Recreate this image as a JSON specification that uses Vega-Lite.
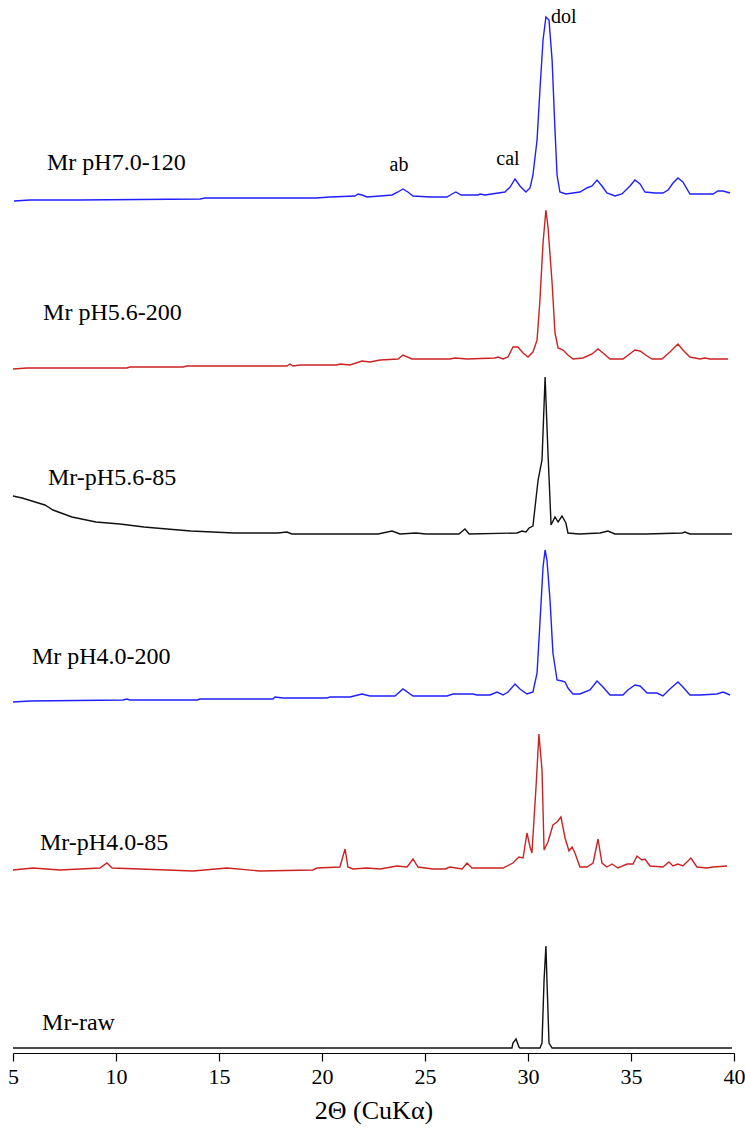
{
  "$schema": "https://vega.github.io/schema/vega-lite/v6.json",
  "width": 721,
  "height": 1053,
  "autosize": {"type": "none"},
  "padding": {"top": 0, "left": 13, "right": 11, "bottom": 81},
  "background": "white",
  "config": {"view": {"stroke": null}, "font": "'Liberation Serif', 'DejaVu Serif', serif"},
  "datasets": {
    "patterns": [
      {"sample":"Mr pH7.0-120","theta":5.05,"counts":852},{"sample":"Mr pH7.0-120","theta":5.83,"counts":853},{"sample":"Mr pH7.0-120","theta":8.16,"counts":853},{"sample":"Mr pH7.0-120","theta":14.08,"counts":854},{"sample":"Mr pH7.0-120","theta":14.32,"counts":855},{"sample":"Mr pH7.0-120","theta":19.71,"counts":855},{"sample":"Mr pH7.0-120","theta":20.39,"counts":856},{"sample":"Mr pH7.0-120","theta":21.6,"counts":857},{"sample":"Mr pH7.0-120","theta":21.75,"counts":859},{"sample":"Mr pH7.0-120","theta":21.94,"counts":858},{"sample":"Mr pH7.0-120","theta":22.18,"counts":856},{"sample":"Mr pH7.0-120","theta":22.82,"counts":857},{"sample":"Mr pH7.0-120","theta":23.4,"counts":858},{"sample":"Mr pH7.0-120","theta":23.69,"counts":861},{"sample":"Mr pH7.0-120","theta":23.93,"counts":864},{"sample":"Mr pH7.0-120","theta":24.17,"counts":861},{"sample":"Mr pH7.0-120","theta":24.42,"counts":857},{"sample":"Mr pH7.0-120","theta":25.24,"counts":856},{"sample":"Mr pH7.0-120","theta":26.07,"counts":856},{"sample":"Mr pH7.0-120","theta":26.31,"counts":859},{"sample":"Mr pH7.0-120","theta":26.5,"counts":861},{"sample":"Mr pH7.0-120","theta":26.75,"counts":858},{"sample":"Mr pH7.0-120","theta":27.57,"counts":858},{"sample":"Mr pH7.0-120","theta":27.67,"counts":859},{"sample":"Mr pH7.0-120","theta":27.91,"counts":858},{"sample":"Mr pH7.0-120","theta":28.88,"counts":861},{"sample":"Mr pH7.0-120","theta":29.13,"counts":866},{"sample":"Mr pH7.0-120","theta":29.37,"counts":874},{"sample":"Mr pH7.0-120","theta":29.61,"counts":867},{"sample":"Mr pH7.0-120","theta":29.9,"counts":861},{"sample":"Mr pH7.0-120","theta":30.1,"counts":865},{"sample":"Mr pH7.0-120","theta":30.24,"counts":878},{"sample":"Mr pH7.0-120","theta":30.44,"counts":913},{"sample":"Mr pH7.0-120","theta":30.58,"counts":963},{"sample":"Mr pH7.0-120","theta":30.73,"counts":1013},{"sample":"Mr pH7.0-120","theta":30.87,"counts":1036},{"sample":"Mr pH7.0-120","theta":31.02,"counts":1033},{"sample":"Mr pH7.0-120","theta":31.17,"counts":993},{"sample":"Mr pH7.0-120","theta":31.31,"counts":923},{"sample":"Mr pH7.0-120","theta":31.41,"counts":878},{"sample":"Mr pH7.0-120","theta":31.55,"counts":861},{"sample":"Mr pH7.0-120","theta":31.84,"counts":859},{"sample":"Mr pH7.0-120","theta":32.52,"counts":861},{"sample":"Mr pH7.0-120","theta":32.86,"counts":865},{"sample":"Mr pH7.0-120","theta":33.11,"counts":867},{"sample":"Mr pH7.0-120","theta":33.35,"counts":873},{"sample":"Mr pH7.0-120","theta":33.59,"counts":867},{"sample":"Mr pH7.0-120","theta":33.83,"counts":860},{"sample":"Mr pH7.0-120","theta":34.22,"counts":857},{"sample":"Mr pH7.0-120","theta":34.56,"counts":859},{"sample":"Mr pH7.0-120","theta":34.95,"counts":867},{"sample":"Mr pH7.0-120","theta":35.19,"counts":873},{"sample":"Mr pH7.0-120","theta":35.44,"counts":869},{"sample":"Mr pH7.0-120","theta":35.68,"counts":861},{"sample":"Mr pH7.0-120","theta":36.17,"counts":860},{"sample":"Mr pH7.0-120","theta":36.55,"counts":860},{"sample":"Mr pH7.0-120","theta":36.8,"counts":863},{"sample":"Mr pH7.0-120","theta":37.04,"counts":870},{"sample":"Mr pH7.0-120","theta":37.28,"counts":875},{"sample":"Mr pH7.0-120","theta":37.52,"counts":871},{"sample":"Mr pH7.0-120","theta":37.86,"counts":859},{"sample":"Mr pH7.0-120","theta":38.35,"counts":859},{"sample":"Mr pH7.0-120","theta":38.98,"counts":859},{"sample":"Mr pH7.0-120","theta":39.22,"counts":862},{"sample":"Mr pH7.0-120","theta":39.47,"counts":862},{"sample":"Mr pH7.0-120","theta":39.81,"counts":860},

      {"sample":"Mr pH5.6-200","theta":5.0,"counts":684},{"sample":"Mr pH5.6-200","theta":5.68,"counts":685},{"sample":"Mr pH5.6-200","theta":10.53,"counts":685},{"sample":"Mr pH5.6-200","theta":10.68,"counts":686},{"sample":"Mr pH5.6-200","theta":13.25,"counts":686},{"sample":"Mr pH5.6-200","theta":13.45,"counts":687},{"sample":"Mr pH5.6-200","theta":18.3,"counts":687},{"sample":"Mr pH5.6-200","theta":18.45,"counts":689},{"sample":"Mr pH5.6-200","theta":18.59,"counts":687},{"sample":"Mr pH5.6-200","theta":18.93,"counts":688},{"sample":"Mr pH5.6-200","theta":20.73,"counts":688},{"sample":"Mr pH5.6-200","theta":20.87,"counts":689},{"sample":"Mr pH5.6-200","theta":21.36,"counts":688},{"sample":"Mr pH5.6-200","theta":21.94,"counts":692},{"sample":"Mr pH5.6-200","theta":22.33,"counts":691},{"sample":"Mr pH5.6-200","theta":22.82,"counts":693},{"sample":"Mr pH5.6-200","theta":23.69,"counts":694},{"sample":"Mr pH5.6-200","theta":23.93,"counts":698},{"sample":"Mr pH5.6-200","theta":24.37,"counts":694},{"sample":"Mr pH5.6-200","theta":26.21,"counts":694},{"sample":"Mr pH5.6-200","theta":26.46,"counts":695},{"sample":"Mr pH5.6-200","theta":27.04,"counts":694},{"sample":"Mr pH5.6-200","theta":28.4,"counts":695},{"sample":"Mr pH5.6-200","theta":28.54,"counts":696},{"sample":"Mr pH5.6-200","theta":28.79,"counts":694},{"sample":"Mr pH5.6-200","theta":29.03,"counts":696},{"sample":"Mr pH5.6-200","theta":29.27,"counts":706},{"sample":"Mr pH5.6-200","theta":29.51,"counts":706},{"sample":"Mr pH5.6-200","theta":29.76,"counts":700},{"sample":"Mr pH5.6-200","theta":30.0,"counts":696},{"sample":"Mr pH5.6-200","theta":30.24,"counts":701},{"sample":"Mr pH5.6-200","theta":30.44,"counts":713},{"sample":"Mr pH5.6-200","theta":30.58,"counts":753},{"sample":"Mr pH5.6-200","theta":30.73,"counts":810},{"sample":"Mr pH5.6-200","theta":30.87,"counts":843},{"sample":"Mr pH5.6-200","theta":30.97,"counts":826},{"sample":"Mr pH5.6-200","theta":31.17,"counts":770},{"sample":"Mr pH5.6-200","theta":31.31,"counts":720},{"sample":"Mr pH5.6-200","theta":31.46,"counts":705},{"sample":"Mr pH5.6-200","theta":31.7,"counts":703},{"sample":"Mr pH5.6-200","theta":31.94,"counts":698},{"sample":"Mr pH5.6-200","theta":32.18,"counts":694},{"sample":"Mr pH5.6-200","theta":32.67,"counts":695},{"sample":"Mr pH5.6-200","theta":33.11,"counts":699},{"sample":"Mr pH5.6-200","theta":33.4,"counts":704},{"sample":"Mr pH5.6-200","theta":33.64,"counts":700},{"sample":"Mr pH5.6-200","theta":33.98,"counts":694},{"sample":"Mr pH5.6-200","theta":34.61,"counts":694},{"sample":"Mr pH5.6-200","theta":35.19,"counts":703},{"sample":"Mr pH5.6-200","theta":35.44,"counts":702},{"sample":"Mr pH5.6-200","theta":35.78,"counts":697},{"sample":"Mr pH5.6-200","theta":36.02,"counts":694},{"sample":"Mr pH5.6-200","theta":36.5,"counts":694},{"sample":"Mr pH5.6-200","theta":36.89,"counts":701},{"sample":"Mr pH5.6-200","theta":37.28,"counts":709},{"sample":"Mr pH5.6-200","theta":37.52,"counts":703},{"sample":"Mr pH5.6-200","theta":37.86,"counts":696},{"sample":"Mr pH5.6-200","theta":38.35,"counts":694},{"sample":"Mr pH5.6-200","theta":38.59,"counts":695},{"sample":"Mr pH5.6-200","theta":38.83,"counts":694},{"sample":"Mr pH5.6-200","theta":39.32,"counts":694},{"sample":"Mr pH5.6-200","theta":39.71,"counts":694},

      {"sample":"Mr-pH5.6-85","theta":5.0,"counts":557},{"sample":"Mr-pH5.6-85","theta":5.44,"counts":555},{"sample":"Mr-pH5.6-85","theta":6.55,"counts":548},{"sample":"Mr-pH5.6-85","theta":6.94,"counts":543},{"sample":"Mr-pH5.6-85","theta":7.86,"counts":536},{"sample":"Mr-pH5.6-85","theta":9.03,"counts":531},{"sample":"Mr-pH5.6-85","theta":10.19,"counts":529},{"sample":"Mr-pH5.6-85","theta":11.36,"counts":526},{"sample":"Mr-pH5.6-85","theta":12.48,"counts":524},{"sample":"Mr-pH5.6-85","theta":13.64,"counts":522},{"sample":"Mr-pH5.6-85","theta":15.73,"counts":520},{"sample":"Mr-pH5.6-85","theta":17.86,"counts":520},{"sample":"Mr-pH5.6-85","theta":18.3,"counts":521},{"sample":"Mr-pH5.6-85","theta":18.54,"counts":519},{"sample":"Mr-pH5.6-85","theta":22.72,"counts":519},{"sample":"Mr-pH5.6-85","theta":23.4,"counts":522},{"sample":"Mr-pH5.6-85","theta":23.79,"counts":519},{"sample":"Mr-pH5.6-85","theta":24.56,"counts":520},{"sample":"Mr-pH5.6-85","theta":25.05,"counts":519},{"sample":"Mr-pH5.6-85","theta":26.65,"counts":519},{"sample":"Mr-pH5.6-85","theta":26.94,"counts":524},{"sample":"Mr-pH5.6-85","theta":27.14,"counts":519},{"sample":"Mr-pH5.6-85","theta":29.47,"counts":520},{"sample":"Mr-pH5.6-85","theta":29.71,"counts":522},{"sample":"Mr-pH5.6-85","theta":29.9,"counts":521},{"sample":"Mr-pH5.6-85","theta":30.05,"counts":525},{"sample":"Mr-pH5.6-85","theta":30.24,"counts":527},{"sample":"Mr-pH5.6-85","theta":30.49,"counts":573},{"sample":"Mr-pH5.6-85","theta":30.68,"counts":593},{"sample":"Mr-pH5.6-85","theta":30.83,"counts":676},{"sample":"Mr-pH5.6-85","theta":30.97,"counts":600},{"sample":"Mr-pH5.6-85","theta":31.12,"counts":528},{"sample":"Mr-pH5.6-85","theta":31.31,"counts":536},{"sample":"Mr-pH5.6-85","theta":31.46,"counts":531},{"sample":"Mr-pH5.6-85","theta":31.65,"counts":537},{"sample":"Mr-pH5.6-85","theta":31.84,"counts":530},{"sample":"Mr-pH5.6-85","theta":31.94,"counts":520},{"sample":"Mr-pH5.6-85","theta":32.48,"counts":519},{"sample":"Mr-pH5.6-85","theta":33.5,"counts":520},{"sample":"Mr-pH5.6-85","theta":33.88,"counts":522},{"sample":"Mr-pH5.6-85","theta":34.22,"counts":519},{"sample":"Mr-pH5.6-85","theta":35.73,"counts":519},{"sample":"Mr-pH5.6-85","theta":37.48,"counts":520},{"sample":"Mr-pH5.6-85","theta":37.62,"counts":521},{"sample":"Mr-pH5.6-85","theta":37.86,"counts":519},{"sample":"Mr-pH5.6-85","theta":39.9,"counts":519},

      {"sample":"Mr pH4.0-200","theta":5.0,"counts":351},{"sample":"Mr pH4.0-200","theta":5.83,"counts":352},{"sample":"Mr pH4.0-200","theta":10.34,"counts":353},{"sample":"Mr pH4.0-200","theta":10.53,"counts":354},{"sample":"Mr pH4.0-200","theta":10.68,"counts":353},{"sample":"Mr pH4.0-200","theta":13.93,"counts":353},{"sample":"Mr pH4.0-200","theta":14.08,"counts":354},{"sample":"Mr pH4.0-200","theta":17.62,"counts":354},{"sample":"Mr pH4.0-200","theta":17.72,"counts":356},{"sample":"Mr pH4.0-200","theta":18.11,"counts":355},{"sample":"Mr pH4.0-200","theta":20.24,"counts":355},{"sample":"Mr pH4.0-200","theta":20.39,"counts":356},{"sample":"Mr pH4.0-200","theta":21.36,"counts":356},{"sample":"Mr pH4.0-200","theta":21.94,"counts":359},{"sample":"Mr pH4.0-200","theta":22.33,"counts":357},{"sample":"Mr pH4.0-200","theta":22.82,"counts":357},{"sample":"Mr pH4.0-200","theta":23.54,"counts":357},{"sample":"Mr pH4.0-200","theta":23.93,"counts":364},{"sample":"Mr pH4.0-200","theta":24.42,"counts":357},{"sample":"Mr pH4.0-200","theta":26.07,"counts":357},{"sample":"Mr pH4.0-200","theta":26.36,"counts":359},{"sample":"Mr pH4.0-200","theta":27.33,"counts":359},{"sample":"Mr pH4.0-200","theta":27.52,"counts":358},{"sample":"Mr pH4.0-200","theta":28.16,"counts":358},{"sample":"Mr pH4.0-200","theta":28.5,"counts":361},{"sample":"Mr pH4.0-200","theta":28.79,"counts":358},{"sample":"Mr pH4.0-200","theta":29.03,"counts":361},{"sample":"Mr pH4.0-200","theta":29.37,"counts":369},{"sample":"Mr pH4.0-200","theta":29.61,"counts":364},{"sample":"Mr pH4.0-200","theta":29.95,"counts":359},{"sample":"Mr pH4.0-200","theta":30.24,"counts":361},{"sample":"Mr pH4.0-200","theta":30.44,"counts":380},{"sample":"Mr pH4.0-200","theta":30.58,"counts":430},{"sample":"Mr pH4.0-200","theta":30.73,"counts":486},{"sample":"Mr pH4.0-200","theta":30.83,"counts":503},{"sample":"Mr pH4.0-200","theta":30.92,"counts":493},{"sample":"Mr pH4.0-200","theta":31.07,"counts":453},{"sample":"Mr pH4.0-200","theta":31.21,"counts":400},{"sample":"Mr pH4.0-200","theta":31.41,"counts":373},{"sample":"Mr pH4.0-200","theta":31.65,"counts":372},{"sample":"Mr pH4.0-200","theta":31.8,"counts":371},{"sample":"Mr pH4.0-200","theta":31.94,"counts":365},{"sample":"Mr pH4.0-200","theta":32.18,"counts":359},{"sample":"Mr pH4.0-200","theta":32.52,"counts":359},{"sample":"Mr pH4.0-200","theta":33.01,"counts":363},{"sample":"Mr pH4.0-200","theta":33.35,"counts":372},{"sample":"Mr pH4.0-200","theta":33.64,"counts":366},{"sample":"Mr pH4.0-200","theta":33.98,"counts":358},{"sample":"Mr pH4.0-200","theta":34.61,"counts":358},{"sample":"Mr pH4.0-200","theta":34.85,"counts":363},{"sample":"Mr pH4.0-200","theta":35.19,"counts":368},{"sample":"Mr pH4.0-200","theta":35.44,"counts":367},{"sample":"Mr pH4.0-200","theta":35.78,"counts":360},{"sample":"Mr pH4.0-200","theta":36.26,"counts":360},{"sample":"Mr pH4.0-200","theta":36.55,"counts":357},{"sample":"Mr pH4.0-200","theta":36.89,"counts":364},{"sample":"Mr pH4.0-200","theta":37.28,"counts":371},{"sample":"Mr pH4.0-200","theta":37.52,"counts":366},{"sample":"Mr pH4.0-200","theta":37.86,"counts":358},{"sample":"Mr pH4.0-200","theta":38.35,"counts":358},{"sample":"Mr pH4.0-200","theta":39.17,"counts":359},{"sample":"Mr pH4.0-200","theta":39.47,"counts":361},{"sample":"Mr pH4.0-200","theta":39.81,"counts":358},

      {"sample":"Mr-pH4.0-85","theta":5.0,"counts":183},{"sample":"Mr-pH4.0-85","theta":5.97,"counts":185},{"sample":"Mr-pH4.0-85","theta":7.28,"counts":183},{"sample":"Mr-pH4.0-85","theta":9.22,"counts":185},{"sample":"Mr-pH4.0-85","theta":9.56,"counts":190},{"sample":"Mr-pH4.0-85","theta":9.81,"counts":185},{"sample":"Mr-pH4.0-85","theta":12.48,"counts":183},{"sample":"Mr-pH4.0-85","theta":13.74,"counts":182},{"sample":"Mr-pH4.0-85","theta":15.39,"counts":185},{"sample":"Mr-pH4.0-85","theta":16.99,"counts":182},{"sample":"Mr-pH4.0-85","theta":19.56,"counts":183},{"sample":"Mr-pH4.0-85","theta":19.76,"counts":185},{"sample":"Mr-pH4.0-85","theta":20.87,"counts":186},{"sample":"Mr-pH4.0-85","theta":21.12,"counts":204},{"sample":"Mr-pH4.0-85","theta":21.26,"counts":186},{"sample":"Mr-pH4.0-85","theta":21.5,"counts":184},{"sample":"Mr-pH4.0-85","theta":22.18,"counts":185},{"sample":"Mr-pH4.0-85","theta":22.82,"counts":184},{"sample":"Mr-pH4.0-85","theta":23.64,"counts":187},{"sample":"Mr-pH4.0-85","theta":24.13,"counts":186},{"sample":"Mr-pH4.0-85","theta":24.42,"counts":194},{"sample":"Mr-pH4.0-85","theta":24.66,"counts":186},{"sample":"Mr-pH4.0-85","theta":25.39,"counts":184},{"sample":"Mr-pH4.0-85","theta":25.97,"counts":184},{"sample":"Mr-pH4.0-85","theta":26.21,"counts":186},{"sample":"Mr-pH4.0-85","theta":26.8,"counts":184},{"sample":"Mr-pH4.0-85","theta":27.04,"counts":190},{"sample":"Mr-pH4.0-85","theta":27.28,"counts":185},{"sample":"Mr-pH4.0-85","theta":28.79,"counts":185},{"sample":"Mr-pH4.0-85","theta":29.27,"counts":190},{"sample":"Mr-pH4.0-85","theta":29.56,"counts":196},{"sample":"Mr-pH4.0-85","theta":29.76,"counts":195},{"sample":"Mr-pH4.0-85","theta":29.95,"counts":220},{"sample":"Mr-pH4.0-85","theta":30.1,"counts":206},{"sample":"Mr-pH4.0-85","theta":30.19,"counts":200},{"sample":"Mr-pH4.0-85","theta":30.39,"counts":266},{"sample":"Mr-pH4.0-85","theta":30.53,"counts":319},{"sample":"Mr-pH4.0-85","theta":30.68,"counts":283},{"sample":"Mr-pH4.0-85","theta":30.78,"counts":203},{"sample":"Mr-pH4.0-85","theta":30.97,"counts":211},{"sample":"Mr-pH4.0-85","theta":31.21,"counts":228},{"sample":"Mr-pH4.0-85","theta":31.41,"counts":231},{"sample":"Mr-pH4.0-85","theta":31.6,"counts":236},{"sample":"Mr-pH4.0-85","theta":31.8,"counts":215},{"sample":"Mr-pH4.0-85","theta":31.99,"counts":202},{"sample":"Mr-pH4.0-85","theta":32.14,"counts":206},{"sample":"Mr-pH4.0-85","theta":32.28,"counts":200},{"sample":"Mr-pH4.0-85","theta":32.52,"counts":186},{"sample":"Mr-pH4.0-85","theta":32.86,"counts":186},{"sample":"Mr-pH4.0-85","theta":33.16,"counts":190},{"sample":"Mr-pH4.0-85","theta":33.4,"counts":214},{"sample":"Mr-pH4.0-85","theta":33.59,"counts":190},{"sample":"Mr-pH4.0-85","theta":33.83,"counts":186},{"sample":"Mr-pH4.0-85","theta":34.08,"counts":189},{"sample":"Mr-pH4.0-85","theta":34.37,"counts":185},{"sample":"Mr-pH4.0-85","theta":34.81,"counts":189},{"sample":"Mr-pH4.0-85","theta":35.1,"counts":189},{"sample":"Mr-pH4.0-85","theta":35.29,"counts":197},{"sample":"Mr-pH4.0-85","theta":35.53,"counts":193},{"sample":"Mr-pH4.0-85","theta":35.68,"counts":194},{"sample":"Mr-pH4.0-85","theta":35.92,"counts":187},{"sample":"Mr-pH4.0-85","theta":36.55,"counts":186},{"sample":"Mr-pH4.0-85","theta":36.84,"counts":191},{"sample":"Mr-pH4.0-85","theta":37.04,"counts":187},{"sample":"Mr-pH4.0-85","theta":37.28,"counts":189},{"sample":"Mr-pH4.0-85","theta":37.52,"counts":187},{"sample":"Mr-pH4.0-85","theta":37.91,"counts":195},{"sample":"Mr-pH4.0-85","theta":38.2,"counts":186},{"sample":"Mr-pH4.0-85","theta":38.69,"counts":185},{"sample":"Mr-pH4.0-85","theta":38.98,"counts":186},{"sample":"Mr-pH4.0-85","theta":39.66,"counts":187},

      {"sample":"Mr-raw","theta":5.0,"counts":5},{"sample":"Mr-raw","theta":29.22,"counts":5},{"sample":"Mr-raw","theta":29.27,"counts":10},{"sample":"Mr-raw","theta":29.42,"counts":14},{"sample":"Mr-raw","theta":29.56,"counts":6},{"sample":"Mr-raw","theta":29.61,"counts":5},{"sample":"Mr-raw","theta":30.58,"counts":5},{"sample":"Mr-raw","theta":30.68,"counts":10},{"sample":"Mr-raw","theta":30.78,"counts":73},{"sample":"Mr-raw","theta":30.87,"counts":107},{"sample":"Mr-raw","theta":30.92,"counts":73},{"sample":"Mr-raw","theta":31.02,"counts":10},{"sample":"Mr-raw","theta":31.17,"counts":5},{"sample":"Mr-raw","theta":39.9,"counts":5}
    ],
    "sample_labels": [
      {"text":"Mr pH7.0-120","theta":6.65,"counts":890},
      {"text":"Mr pH5.6-200","theta":6.46,"counts":740},
      {"text":"Mr-pH5.6-85","theta":6.7,"counts":575},
      {"text":"Mr pH4.0-200","theta":5.92,"counts":396},
      {"text":"Mr-pH4.0-85","theta":6.31,"counts":210},
      {"text":"Mr-raw","theta":6.41,"counts":30}
    ],
    "peak_labels_left": [
      {"text":"dol","theta":31.12,"counts":1036}
    ],
    "peak_labels_center": [
      {"text":"ab","theta":23.74,"counts":888},
      {"text":"cal","theta":29.03,"counts":894}
    ]
  },
  "layer": [
    {
      "data": {"name": "patterns"},
      "mark": {"type": "line", "strokeWidth": 1.4},
      "encoding": {
        "x": {"field": "theta", "type": "quantitative",
              "scale": {"domain": [5, 40], "nice": false, "zero": false},
              "axis": {"values": [5,10,15,20,25,30,35,40], "grid": false, "domainColor": "black", "domainWidth": 1.2,
                       "tickColor": "black", "tickSize": 8, "tickWidth": 1.2,
                       "labelFont": "'Liberation Serif', 'DejaVu Serif', serif", "labelFontSize": 22, "labelColor": "black", "labelPadding": 5,
                       "labelFlush": false, "labelOverlap": false,
                       "title": "2Θ  (CuKα)", "titleFont": "'Liberation Serif', 'DejaVu Serif', serif", "titleFontSize": 26,
                       "titleFontWeight": "normal", "titleColor": "black", "titlePadding": 10}},
        "y": {"field": "counts", "type": "quantitative",
              "scale": {"domain": [0, 1053], "nice": false, "zero": true}, "axis": null},
        "color": {"field": "sample", "type": "nominal", "legend": null,
                  "scale": {"domain": ["Mr pH7.0-120","Mr pH5.6-200","Mr-pH5.6-85","Mr pH4.0-200","Mr-pH4.0-85","Mr-raw"],
                            "range": ["#1f1fff","#cc2222","#111111","#1f1fff","#cc2222","#111111"]}}
      }
    },
    {
      "data": {"name": "sample_labels"},
      "mark": {"type": "text", "font": "'Liberation Serif', 'DejaVu Serif', serif", "fontSize": 24, "color": "black", "baseline": "middle", "align": "left"},
      "encoding": {
        "x": {"field": "theta", "type": "quantitative"},
        "y": {"field": "counts", "type": "quantitative"},
        "text": {"field": "text"}
      }
    },
    {
      "data": {"name": "peak_labels_left"},
      "mark": {"type": "text", "font": "'Liberation Serif', 'DejaVu Serif', serif", "fontSize": 20, "color": "black", "baseline": "middle", "align": "left"},
      "encoding": {
        "x": {"field": "theta", "type": "quantitative"},
        "y": {"field": "counts", "type": "quantitative"},
        "text": {"field": "text"}
      }
    },
    {
      "data": {"name": "peak_labels_center"},
      "mark": {"type": "text", "font": "'Liberation Serif', 'DejaVu Serif', serif", "fontSize": 20, "color": "black", "baseline": "middle", "align": "center"},
      "encoding": {
        "x": {"field": "theta", "type": "quantitative"},
        "y": {"field": "counts", "type": "quantitative"},
        "text": {"field": "text"}
      }
    }
  ]
}
